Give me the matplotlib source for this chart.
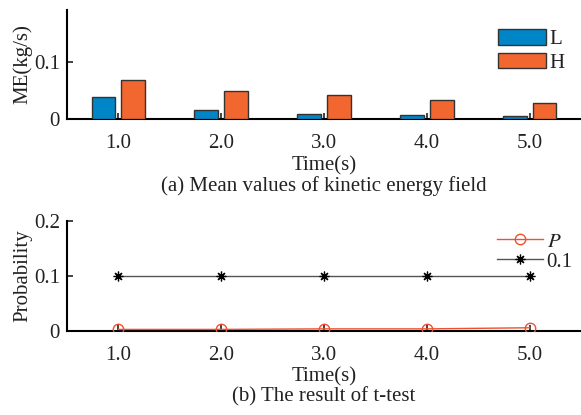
import numpy as np
import matplotlib.pyplot as plt

plt.rcParams['font.family'] = ['Liberation Serif', 'DejaVu Serif']
plt.rcParams['font.size'] = 15
plt.rcParams['mathtext.fontset'] = 'stix'

# data
time = [1, 2, 3, 4, 5]
time_labels = ['1.0', '2.0', '3.0', '4.0', '5.0']
me_low = [0.0385, 0.0157, 0.0093, 0.0064, 0.0047]
me_high = [0.0686, 0.0483, 0.0413, 0.0337, 0.0285]
p_value = [0.002, 0.002, 0.003, 0.003, 0.005]
threshold = [0.1, 0.1, 0.1, 0.1, 0.1]

blue = '#0085C6'
orange = '#F26630'
red = '#EE5030'
txt = '#222222'

fig = plt.figure(figsize=(5.81, 4.15), dpi=100)
ax1 = fig.add_axes([0.1153, 0.7133, 0.8847, 0.2627])
ax2 = fig.add_axes([0.1153, 0.2036, 0.8847, 0.2639])

x = np.array(time)
w = 0.23
ax1.bar(x - 0.145, me_low, w, color=blue, edgecolor='#333333', linewidth=1.0, label='L', zorder=3)
ax1.bar(x + 0.145, me_high, w, color=orange, edgecolor='#333333', linewidth=1.0, label='H', zorder=3)
ax1.set_xlim(0.5, 5.5)
ax1.set_ylim(0, 0.19)
ax1.set_yticks([0, 0.1])
ax1.set_yticklabels(['0', '0.1'])
ax1.set_xticks(time)
ax1.set_xticklabels(time_labels)
ax1.set_ylabel('ME(kg/s)', labelpad=1, color=txt)
ax1.set_xlabel('Time(s)', labelpad=2, color=txt)
ax1.legend(loc='upper right', bbox_to_anchor=(0.985, 0.90), frameon=False,
           handlelength=2.3, handleheight=0.8, labelspacing=0.15,
           handletextpad=0.2, borderaxespad=0, labelcolor=txt)

ax2.plot(time, p_value, color=red, linewidth=1.0, marker='o', markersize=7.5,
         markerfacecolor='none', markeredgecolor=red, markeredgewidth=1.0, label='$P$', zorder=3)
ax2.plot(time, threshold, color='#555555', linewidth=1.0, marker=(8, 2, 0), markersize=7,
         markeredgecolor='black', markeredgewidth=0.9, label='0.1', zorder=3)
ax2.set_xlim(0.5, 5.5)
ax2.set_ylim(0, 0.2)
ax2.set_yticks([0, 0.1, 0.2])
ax2.set_yticklabels(['0', '0.1', '0.2'])
ax2.set_xticks(time)
ax2.set_xticklabels(time_labels)
ax2.set_ylabel('Probability', labelpad=1, color=txt)
ax2.set_xlabel('Time(s)', labelpad=2, color=txt)
ax2.legend(loc='upper right', bbox_to_anchor=(1.0, 0.975), frameon=False,
           handlelength=2.2, labelspacing=0.02, handletextpad=0.2, borderaxespad=0,
           labelcolor=txt)

for ax in (ax1, ax2):
    ax.spines['top'].set_visible(False)
    ax.spines['right'].set_visible(False)
    ax.spines['left'].set_linewidth(1.5)
    ax.spines['bottom'].set_linewidth(1.5)
    ax.tick_params(direction='in', length=4, width=1.2, colors=txt, labelcolor=txt)
    ax.tick_params(axis='x', pad=11)
    ax.tick_params(axis='y', pad=5)

fig.text(0.557, 1 - 186 / 415, '(a) Mean values of kinetic energy field', ha='center', va='center', color=txt)
fig.text(0.557, 1 - 397 / 415, '(b) The result of t-test', ha='center', va='center', color=txt)

fig.savefig('out.png', dpi=100)
